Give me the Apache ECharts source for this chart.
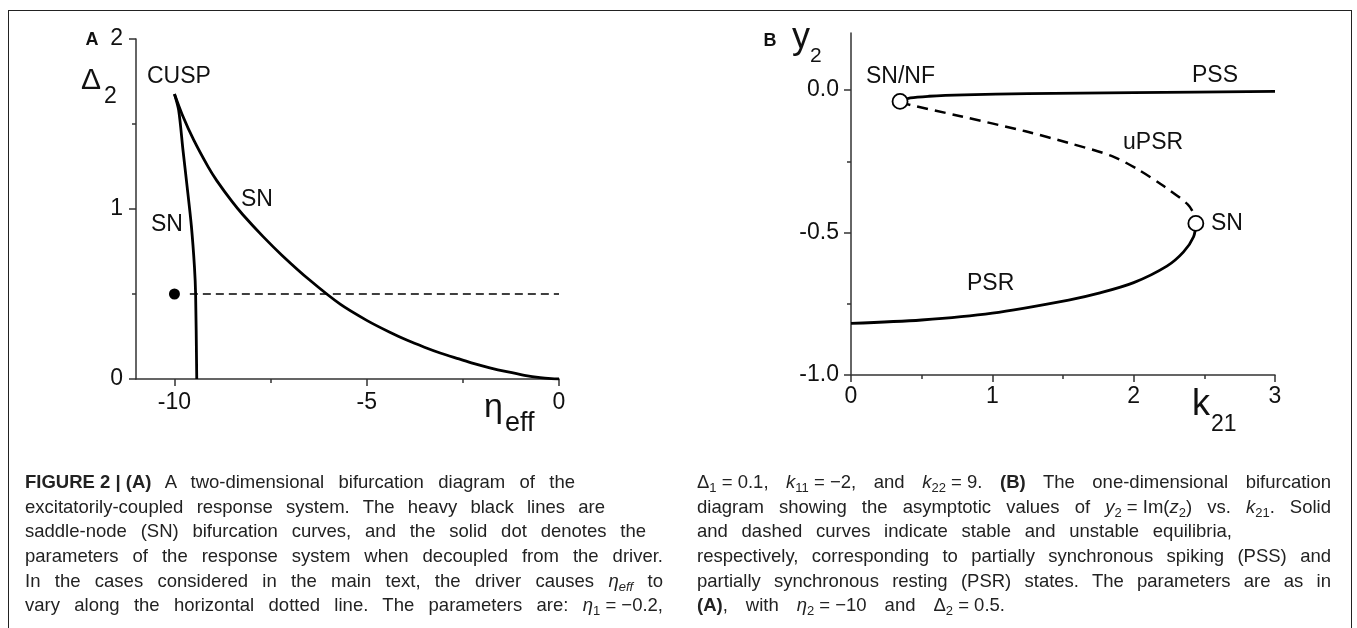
<!DOCTYPE html>
<html>
<head>
<meta charset="utf-8">
<script src="https://cdn.jsdelivr.net/npm/echarts@6.0.0/dist/echarts.min.js"></script>
<style>
  html, body { margin: 0; padding: 0; background: #fff; }
  #frame { position: absolute; left: 8px; top: 10px; width: 1344px; height: 700px;
           border: 1.5px solid #222; box-sizing: border-box; }
  #chart { position: absolute; left: 0; top: 0; width: 1357px; height: 628px; }
  .cap { position: absolute; font-family: 'Liberation Sans', Arial, sans-serif;
         font-size: 18.5px; line-height: 20px; color: #222; text-align: justify; text-align-last: justify; }
  .cap .m, .cap .b { display: inline-block; }
  .cap .b { font-weight: bold; }
  .cap .s { font-size: 13px; vertical-align: -4px; line-height: 0; }
</style>
</head>
<body>
<div id="frame"></div>
<div id="chart"></div>

<div class="cap" style="left:25px;top:472px;width:550px"><span class="b">FIGURE 2 | (A)</span> A two-dimensional bifurcation diagram of the</div>
<div class="cap" style="left:25px;top:497px;width:580px">excitatorily-coupled response system. The heavy black lines are</div>
<div class="cap" style="left:25px;top:521px;width:621px">saddle-node (SN) bifurcation curves, and the solid dot denotes the</div>
<div class="cap" style="left:25px;top:546px;width:638px">parameters of the response system when decoupled from the driver.</div>
<div class="cap" style="left:25px;top:571px;width:638px">In the cases considered in the main text, the driver causes <span class="m"><i>η<span class="s">eff</span></i></span> to</div>
<div class="cap" style="left:25px;top:595px;width:638px">vary along the horizontal dotted line. The parameters are: <span class="m"><i>η</i><span class="s">1</span> = −0.2,</span></div>

<div class="cap" style="left:697px;top:472px;width:634px"><span class="m">Δ<span class="s">1</span> = 0.1,</span> <span class="m"><i>k</i><span class="s">11</span> = −2,</span> and <span class="m"><i>k</i><span class="s">22</span> = 9.</span> <span class="b">(B)</span> The one-dimensional bifurcation</div>
<div class="cap" style="left:697px;top:497px;width:634px">diagram showing the asymptotic values of <span class="m"><i>y</i><span class="s">2</span> = Im(<i>z</i><span class="s">2</span>)</span> vs. <span class="m"><i>k</i><span class="s">21</span>.</span> Solid</div>
<div class="cap" style="left:697px;top:521px;width:535px">and dashed curves indicate stable and unstable equilibria,</div>
<div class="cap" style="left:697px;top:546px;width:634px">respectively, corresponding to partially synchronous spiking (PSS) and</div>
<div class="cap" style="left:697px;top:571px;width:634px">partially synchronous resting (PSR) states. The parameters are as in</div>
<div class="cap" style="left:697px;top:595px;width:308px"><span class="b">(A)</span>, with <span class="m"><i>η</i><span class="s">2</span> = −10</span> and <span class="m">Δ<span class="s">2</span> = 0.5.</span></div>

<script>
// ── Panel A data: two-parameter SN curves (eta_eff, Delta_2) ──────────
const aLeftSnX  = [-10, -9.89, -9.78, -9.67, -9.56, -9.48, -9.45, -9.42];
const aLeftSnY  = [1.676, 1.58, 1.35, 1.13, 0.9, 0.66, 0.5, 0];
const aRightSnX = [-10, -9.8, -9.5, -9.12, -8.9, -8.5, -8.22, -7.7, -7.2, -6.5, -5.69, -5, -4.4,
                   -3.96, -3.5, -3.09, -2.6, -2.23, -1.8, -1.36, -0.9, -0.49, -0.2, 0];
const aRightSnY = [1.676, 1.556, 1.406, 1.246, 1.167, 1.043, 0.966, 0.839, 0.727, 0.585, 0.44, 0.345, 0.275,
                   0.229, 0.187, 0.153, 0.118, 0.092, 0.066, 0.043, 0.022, 0.008, 0.002, 0];
const aPathX    = [-9.6, 0];
const aPathY    = [0.5, 0.5];
const aDotX     = [-10];
const aDotY     = [0.5];
const aXTicks   = [-10, -5, 0];
const aXMinor   = [-7.5, -2.5];
const aYTicks   = [0, 1, 2];
const aYMinor   = [0.5, 1.5];

// ── Panel B data: one-parameter diagram (k21, y2) ─────────────────────
const bPssX  = [0.347, 0.42, 0.55, 0.8, 1.25, 2.0, 3.0];
const bPssY  = [-0.04, -0.028, -0.022, -0.017, -0.013, -0.009, -0.005];
const bUpsrX = [0.347, 0.408, 0.775, 1.235, 1.541, 1.847, 2.031, 2.215, 2.384, 2.43, 2.44];
const bUpsrY = [-0.04, -0.051, -0.092, -0.145, -0.186, -0.232, -0.279, -0.338, -0.402, -0.44, -0.468];
const bPsrX  = [0, 0.5, 1.0, 1.54, 1.762, 2.0, 2.235, 2.353, 2.424, 2.44];
const bPsrY  = [-0.819, -0.807, -0.783, -0.737, -0.712, -0.676, -0.618, -0.568, -0.515, -0.468];
const bPointsX = [0.347, 2.44];
const bPointsY = [-0.04, -0.468];
const bXTicks = [0, 1, 2, 3];
const bXMinor = [0.5, 1.5, 2.5];
const bYTicks = [-1, -0.5, 0];
const bYMinor = [-0.75, -0.25];

// ── Styles ────────────────────────────────────────────────────────────
const ink     = '#000';
const axisInk = '#333';
const font    = "'Liberation Sans', Arial, sans-serif";

const zip = (xs, ys) => xs.map((x, i) => [x, ys[i]]);

function majorAxis(gridIndex, pos, min, max, ticks, fmt, margin) {
  return {
    type: 'value', gridIndex, position: pos, min, max,
    axisLine: { show: true, onZero: false, lineStyle: { color: axisInk, width: 1.5 } },
    axisTick: { show: true, length: 7, customValues: ticks, lineStyle: { color: axisInk, width: 1.5 } },
    axisLabel: { customValues: ticks, fontSize: 23, fontFamily: font, color: '#111', margin, formatter: fmt },
    splitLine: { show: false },
  };
}
function minorAxis(gridIndex, pos, min, max, ticks) {
  return {
    type: 'value', gridIndex, position: pos, min, max,
    axisLine: { show: false, onZero: false },
    axisTick: { show: true, length: 4, customValues: ticks, lineStyle: { color: axisInk, width: 1.5 } },
    axisLabel: { show: false },
    splitLine: { show: false },
  };
}
function curve(xi, yi, data, extra) {
  return Object.assign({
    type: 'line', xAxisIndex: xi, yAxisIndex: yi, data, symbol: 'none',
    smooth: 0.3,
    lineStyle: { color: ink, width: 2.8 }, silent: true,
  }, extra || {});
}
function text(t, x, y, size, opts) {
  opts = opts || {};
  return {
    type: 'text', x, y, silent: true,
    style: {
      text: t, fill: '#111', textAlign: opts.align || 'left', textVerticalAlign: 'middle',
      font: (opts.bold ? 'bold ' : '') + size + 'px ' + font,
    },
  };
}

const chart = echarts.init(document.getElementById('chart'), null, { renderer: 'canvas' });
chart.setOption({
  animation: false,
  grid: [
    { left: 136, top: 39, width: 423, height: 340 },
    { left: 851, top: 33, width: 424, height: 342 },
  ],
  xAxis: [
    majorAxis(0, 'bottom', -11, 0, aXTicks, v => String(v), 12),
    minorAxis(0, 'bottom', -11, 0, aXMinor),
    majorAxis(1, 'bottom', 0, 3, bXTicks, v => String(v), 10),
    minorAxis(1, 'bottom', 0, 3, bXMinor),
  ],
  yAxis: [
    majorAxis(0, 'left', 0, 2, aYTicks, v => String(v), 13),
    minorAxis(0, 'left', 0, 2, aYMinor),
    majorAxis(1, 'left', -1, 0.2, bYTicks, v => v.toFixed(1), 12),
    minorAxis(1, 'left', -1, 0.2, bYMinor),
  ],
  series: [
    curve(0, 0, zip(aLeftSnX, aLeftSnY)),
    curve(0, 0, zip(aRightSnX, aRightSnY)),
    curve(0, 0, zip(aPathX, aPathY), { smooth: false, lineStyle: { color: ink, width: 1.5, type: [8, 5] } }),
    { type: 'scatter', xAxisIndex: 0, yAxisIndex: 0, data: zip(aDotX, aDotY), symbolSize: 11,
      itemStyle: { color: ink, opacity: 1 }, silent: true, z: 5 },

    curve(2, 2, zip(bPssX, bPssY)),
    curve(2, 2, zip(bUpsrX, bUpsrY), { lineStyle: { color: ink, width: 2.5, type: [11, 7] } }),
    curve(2, 2, zip(bPsrX, bPsrY)),
    { type: 'scatter', xAxisIndex: 2, yAxisIndex: 2, data: zip(bPointsX, bPointsY), symbolSize: 15,
      itemStyle: { color: '#fff', borderColor: ink, borderWidth: 1.8, opacity: 1 }, silent: true, z: 5 },
  ],
  graphic: [
    // panel A
    text('A', 92, 40, 18, { bold: true, align: 'center' }),
    text('Δ', 81, 81, 30),
    text('2', 104, 97, 23),
    text('CUSP', 147, 77, 23),
    text('SN', 151, 225, 23),
    text('SN', 241, 200, 23),
    text('η', 484, 408, 34),
    text('eff', 505, 424, 27),
    // panel B
    text('B', 770, 41, 18, { bold: true, align: 'center' }),
    text('y', 792, 38, 36),
    text('2', 810, 56, 21),
    text('SN/NF', 866, 77, 23),
    text('PSS', 1192, 76, 23),
    text('uPSR', 1123, 143, 23),
    text('SN', 1211, 224, 23),
    text('PSR', 967, 284, 23),
    text('k', 1192, 405, 36),
    text('21', 1211, 425, 23),
  ],
});
</script>
</body>
</html>
